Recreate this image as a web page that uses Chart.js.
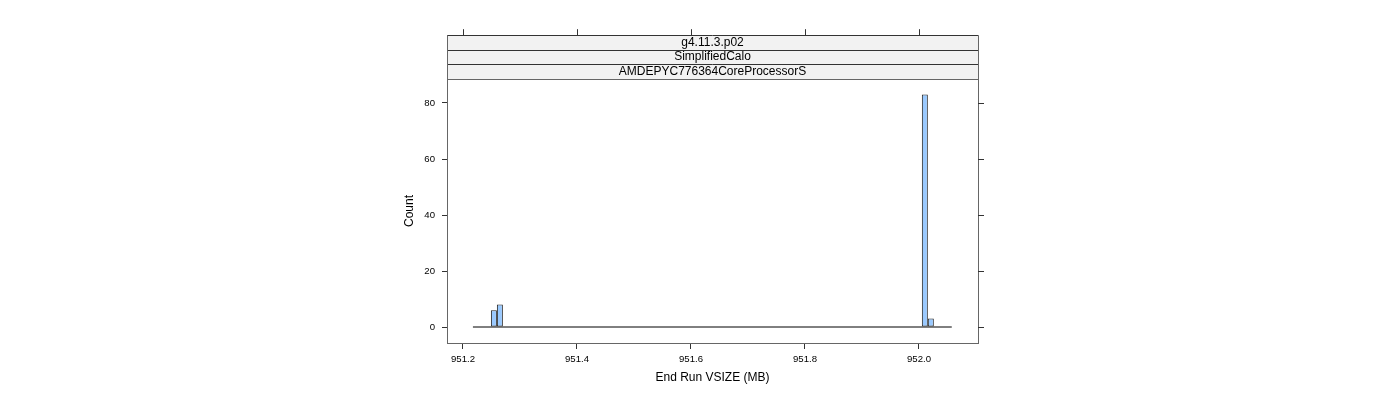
<!DOCTYPE html>
<html>
<head>
<meta charset="utf-8">
<script src="https://cdn.jsdelivr.net/npm/chart.js@4.4.1/dist/chart.umd.min.js"></script>
<style>
html,body{margin:0;padding:0;background:#fff;}
#wrap{width:1400px;height:400px;position:relative;}
</style>
</head>
<body>
<div id="wrap"><canvas id="c"></canvas></div>
<script>
// ---- data ----
const stripLabels = ["g4.11.3.p02", "SimplifiedCalo", "AMDEPYC776364CoreProcessorS"];
const binStart = 951.2175;   // first histogram break (MB)
const binWidth = 0.0105;     // histogram bin width (MB)
const counts = [
  0, 0, 0, 6, 8, 0, 0, 0, 0, 0,
  0, 0, 0, 0, 0, 0, 0, 0, 0, 0,
  0, 0, 0, 0, 0, 0, 0, 0, 0, 0,
  0, 0, 0, 0, 0, 0, 0, 0, 0, 0,
  0, 0, 0, 0, 0, 0, 0, 0, 0, 0,
  0, 0, 0, 0, 0, 0, 0, 0, 0, 0,
  0, 0, 0, 0, 0, 0, 0, 0, 0, 0,
  0, 0, 0, 0, 0, 83, 3, 0, 0, 0
];
const xTicks = [951.2, 951.4, 951.6, 951.8, 952.0];
const yTicks = [0, 20, 40, 60, 80];
const xLimits = [951.172, 952.1035];
const yLimits = [-5.71, 88.57];
const xTitle = "End Run VSIZE (MB)";
const yTitle = "Count";

// ---- derived ----
const barPoints = counts.map((c, i) => ({x: binStart + (i + 0.5) * binWidth, y: c}));
const baseline = [{x: binStart, y: 0}, {x: binStart + counts.length * binWidth, y: 0}];

const FONT = "'Liberation Sans', Arial, sans-serif";

const latticePlugin = {
  id: 'lattice',
  afterDraw(chart) {
    const ctx = chart.ctx;
    const a = chart.chartArea;
    const xs = chart.scales.x, ys = chart.scales.y;
    ctx.save();
    // strips
    const stripH = 14.6;
    const n = stripLabels.length;
    const top0 = a.top - n * stripH;
    ctx.fillStyle = '#f2f2f2';
    ctx.fillRect(a.left, top0, a.right - a.left, n * stripH);
    ctx.font = '12px ' + FONT;
    ctx.textAlign = 'center';
    ctx.textBaseline = 'middle';
    for (let i = 0; i < n; i++) {
      const y0 = top0 + i * stripH;
      ctx.fillStyle = '#000';
      ctx.fillText(stripLabels[i], (a.left + a.right) / 2, y0 + stripH / 2);
    }
    ctx.lineWidth = 1;
    ctx.strokeStyle = '#333';
    for (let i = 0; i < n; i++) {
      const y0 = Math.round(top0 + i * stripH) + 0.5;
      ctx.beginPath();
      ctx.moveTo(a.left, y0);
      ctx.lineTo(a.right, y0);
      ctx.stroke();
    }
    ctx.strokeStyle = '#666';
    ctx.beginPath();
    ctx.moveTo(Math.round(a.left) + 0.5, top0);
    ctx.lineTo(Math.round(a.left) + 0.5, a.top);
    ctx.moveTo(Math.round(a.right) + 0.5, top0);
    ctx.lineTo(Math.round(a.right) + 0.5, a.top);
    ctx.stroke();
    // panel box
    ctx.strokeStyle = '#666';
    ctx.strokeRect(Math.round(a.left) + 0.5, Math.round(a.top) + 0.5,
                   Math.round(a.right - a.left), Math.round(a.bottom - a.top));
    // top ticks
    ctx.strokeStyle = '#333';
    ctx.beginPath();
    xTicks.forEach(v => {
      const px = Math.round(xs.getPixelForValue(v)) + 0.5;
      ctx.moveTo(px, top0 - 6);
      ctx.lineTo(px, top0);
    });
    // right ticks
    yTicks.forEach(v => {
      const py = Math.round(ys.getPixelForValue(v)) + 0.5;
      ctx.moveTo(a.right, py);
      ctx.lineTo(a.right + 6, py);
    });
    ctx.stroke();
    ctx.restore();
  }
};

const padLeft = 402.8, padRight = 422, padTop = 79, padBottom = 14.8;

new Chart(document.getElementById('c'), {
  type: 'bar',
  data: {
    datasets: [
      {
        type: 'line',
        data: baseline,
        borderColor: '#000',
        borderWidth: 1,
        pointRadius: 0,
        fill: false,
        order: 2
      },
      {
        type: 'bar',
        data: barPoints,
        backgroundColor: '#99c9ff',
        borderColor: '#222',
        borderWidth: 1,
        borderSkipped: false,
        barPercentage: 1,
        categoryPercentage: 1,
        inflateAmount: 0,
        order: 1
      }
    ]
  },
  options: {
    responsive: true,
    maintainAspectRatio: false,
    animation: false,
    devicePixelRatio: 1,
    layout: {padding: {left: padLeft, right: padRight, top: padTop, bottom: padBottom}},
    plugins: {legend: {display: false}, tooltip: {enabled: false}},
    scales: {
      x: {
        type: 'linear',
        position: 'bottom',
        min: xLimits[0], max: xLimits[1],
        offset: false,
        afterBuildTicks: s => { s.ticks = xTicks.map(v => ({value: v})); },
        afterFit: s => { s.height = 400 - padBottom - 343; },
        grid: {offset: false, drawOnChartArea: false, drawTicks: true, tickLength: 6, color: '#333'},
        border: {display: false},
        ticks: {color: '#000', font: {family: FONT, size: 9.6}, padding: 5, maxRotation: 0,
                callback: v => Number(v).toFixed(1)},
        title: {display: true, text: xTitle, color: '#000', font: {family: FONT, size: 12}, padding: 0}
      },
      y: {
        type: 'linear',
        position: 'left',
        min: yLimits[0], max: yLimits[1],
        afterBuildTicks: s => { s.ticks = yTicks.map(v => ({value: v})); },
        afterFit: s => { s.width = 447 - padLeft; },
        grid: {drawOnChartArea: false, drawTicks: true, tickLength: 5, color: '#333'},
        border: {display: false},
        ticks: {color: '#000', font: {family: FONT, size: 9.6}, padding: 7},
        title: {display: true, text: yTitle, color: '#000', font: {family: FONT, size: 12}, padding: 0}
      }
    }
  },
  plugins: [latticePlugin]
});
</script>
</body>
</html>
